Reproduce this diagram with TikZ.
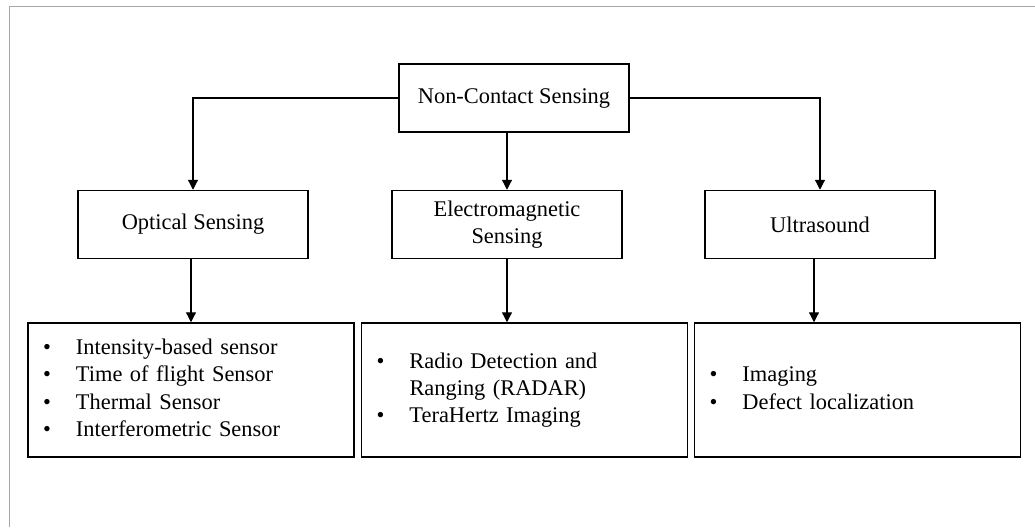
\documentclass[tikz,border=0pt]{standalone}
\usepackage{fontspec}
\setmainfont{Liberation Serif}
\usetikzlibrary{arrows.meta,positioning}
\newcommand{\bulletlist}[1]{\begin{tabular}{@{}p{16.5pt}@{}l@{}}#1\end{tabular}}

\begin{document}
\begin{tikzpicture}[x=0.5pt,y=-0.5pt,every node/.style={font=\fontsize{11.2}{13.6}\selectfont},
    box/.style={draw,line width=.75pt,minimum width=115pt,minimum height=34pt,align=center,inner sep=2pt},
    listbox/.style={draw,line width=.75pt,minimum height=67pt,text width=148pt,inner xsep=7.5pt,align=left},
    arr/.style={-{Triangle[length=5pt,width=5pt]},line width=.6pt}]
      \useasboundingbox (0,0) rectangle (1035,527);
      \draw[gray!70,line width=.8pt] (9.5,527) |- (1035,6.5);
      % top and middle row
      \node[box] (root) at (514,98) {Non-Contact Sensing};
      \node[box] (opt) at (193,224.5) {Optical Sensing};
      \node[box] (em) at (507,224.5) {Electromagnetic\\Sensing};
      \node[box] (ultra) at (820,224.5) {Ultrasound};
      % lists
      \node[listbox] (l1) at (191,390) {\bulletlist{\textbullet & Intensity-based sensor\\ \textbullet & Time of flight Sensor\\ \textbullet & Thermal Sensor\\ \textbullet & Interferometric Sensor}};
      \node[listbox] (l2) at (524.5,390) {\bulletlist{\textbullet & Radio Detection and\\ & Ranging (RADAR)\\ \textbullet & TeraHertz Imaging}};
      \node[listbox] (l3) at (857.5,390) {\bulletlist{\textbullet & Imaging\\ \textbullet & Defect localization}};
      \draw[arr] (root.west) -| (opt.north);
      \draw[arr] (root.east) -| (ultra.north);
      \draw[arr] (root.south -| em.north) -- (em.north);
      \draw[arr] (opt.south -| l1.north) -- (l1.north);
      \draw[arr] (em.south) -- (em.south |- l2.north);
      \draw[arr] ([xshift=-3pt]ultra.south) -- ([xshift=-3pt]ultra.south |- l3.north);
    \end{tikzpicture}
\end{document}
